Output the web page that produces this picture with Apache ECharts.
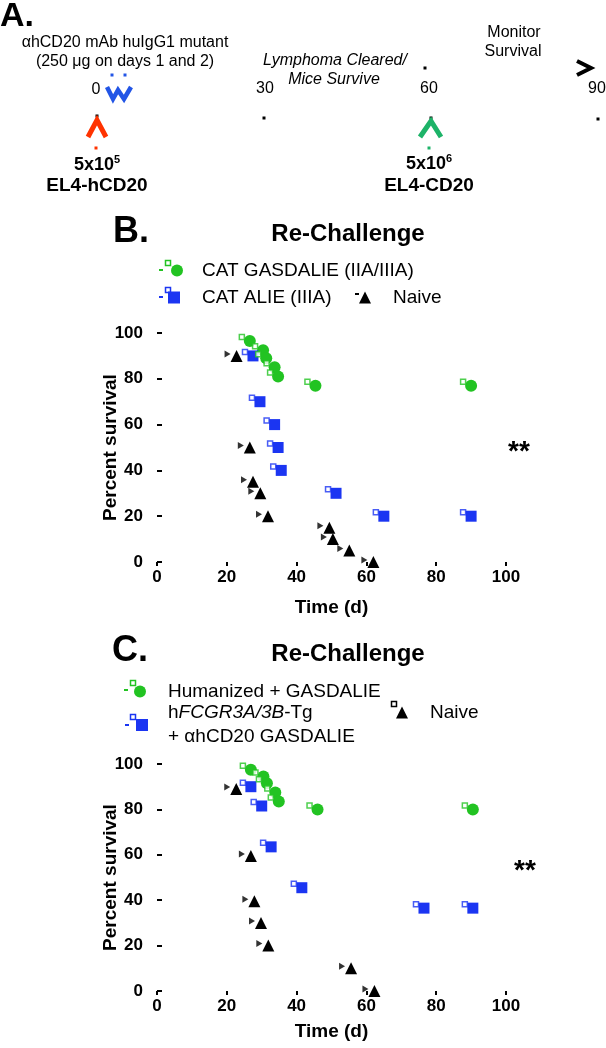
<!DOCTYPE html>
<html>
<head>
<meta charset="utf-8">
<script src="https://cdn.jsdelivr.net/npm/echarts@6/dist/echarts.min.js"></script>
<style>html,body{margin:0;padding:0;background:#fff}#c{width:606px;height:1048px}</style>
</head>
<body>
<div id="c"></div>
<script>
// ---------- data ----------
const xTicks = [0, 20, 40, 60, 80, 100];
const yTicks = [0, 20, 40, 60, 80, 100];

// Panel B
const bNames = ['CAT GASDALIE (IIA/IIIA)', 'CAT ALIE (IIIA)', 'Naive'];
const bGreenDays = [26.6, 30.4, 31.3, 33.7, 34.7, 45.4, 90];
const bGreenSurv = [96.5, 92.5, 89, 85, 81, 77, 77];
const bBlueDays = [27.5, 29.5, 33.7, 34.7, 35.6, 51.3, 65, 90];
const bBlueSurv = [90, 70, 60, 50, 40, 30, 20, 20];
const bNaiveDays = [22.8, 26.6, 27.5, 29.6, 31.8, 49.4, 50.4, 55.1, 62];
const bNaiveSurv = [90, 50, 35, 30, 20, 15, 10, 5, 0];

// Panel C
const cNames = ['Humanized + GASDALIE', 'hFCGR3A/3B-Tg + αhCD20 GASDALIE', 'Naive'];
const cGreenDays = [26.9, 30.5, 31.5, 33.9, 34.9, 46, 90.5];
const cGreenSurv = [97.5, 94.5, 91.5, 87.5, 83.5, 80, 80];
const cBlueDays = [26.9, 30, 32.7, 41.5, 76.5, 90.5];
const cBlueSurv = [90, 81.5, 63.5, 45.5, 36.5, 36.5];
const cNaiveDays = [22.7, 26.9, 27.9, 29.8, 31.9, 55.6, 62.3];
const cNaiveSurv = [89, 59.5, 39.5, 30, 20, 10, 0];

// Panel A timeline labels
const timelineDays = ['0', '30', '60', '90'];

// ---------- styles ----------
const FONT = 'Liberation Sans, Arial, Helvetica, sans-serif';
const GREEN = '#22c322';
const BLUE = '#1b35f2';
const BLACK = '#000000';

function pairs(xs, ys) { return xs.map((x, i) => [x, ys[i]]); }

const chart = echarts.init(document.getElementById('c'), null, {renderer: 'canvas'});

function xAxisDef(gi, gap) {
  return {
    gridIndex: gi, type: 'value', min: 0, max: 100, interval: 20,
    name: 'Time (d)', nameLocation: 'middle', nameGap: gap, nameMoveOverlap: false,
    nameTextStyle: {fontFamily: FONT, fontSize: 19, fontWeight: 'bold', color: BLACK},
    axisLine: {show: false},
    axisTick: {show: true, length: 4, lineStyle: {color: BLACK, width: 2}},
    axisLabel: {fontFamily: FONT, fontSize: 17, fontWeight: 'bold', color: BLACK, margin: 7,
      formatter: v => xTicks.includes(v) ? String(v) : ''},
    splitLine: {show: false}
  };
}
function yAxisDef(gi) {
  return {
    gridIndex: gi, type: 'value', min: 0, max: 100, interval: 20,
    name: 'Percent survival', nameLocation: 'middle', nameGap: 37, nameRotate: 90, nameMoveOverlap: false,
    nameTextStyle: {fontFamily: FONT, fontSize: 19, fontWeight: 'bold', color: BLACK},
    axisLine: {show: false},
    axisTick: {show: true, inside: true, length: 5, lineStyle: {color: BLACK, width: 2}},
    axisLabel: {fontFamily: FONT, fontSize: 17, fontWeight: 'bold', color: BLACK, margin: 14,
      formatter: v => yTicks.includes(v) ? String(v) : ''},
    splitLine: {show: false}
  };
}

function mainSeries(name, gi, data, symbol, color, size) {
  return {name, type: 'scatter', xAxisIndex: gi, yAxisIndex: gi, data, symbol, symbolSize: size,
    itemStyle: {color, opacity: 1}, z: 3, emphasis: {disabled: true}};
}
function artSeries(name, gi, data, color) {
  return {name, type: 'scatter', xAxisIndex: gi, yAxisIndex: gi, data, symbol: 'rect', symbolSize: 5,
    symbolOffset: [-8, -4], itemStyle: {color: '#fff', borderColor: color, borderWidth: 1.5},
    z: 4, silent: true, emphasis: {disabled: true}};
}
function wedgeSeries(name, gi, data) {
  return {name, type: 'scatter', xAxisIndex: gi, yAxisIndex: gi, data, symbol: 'triangle', symbolSize: [7, 6],
    symbolRotate: -90, symbolOffset: [-9, -2], itemStyle: {color: BLACK}, z: 2, silent: true,
    emphasis: {disabled: true}};
}

function legendDef(name, icon, left, top, padLeft, extra) {
  return Object.assign({
    data: [{name, icon}], left, top, padding: 0, itemWidth: 12, itemHeight: 12, selectedMode: false,
    textStyle: {fontFamily: FONT, fontSize: 19, color: BLACK, padding: [0, 0, 0, padLeft]}
  }, extra || {});
}

// ---------- graphic: panel A + labels ----------
const txt = (text, x, y, size, opts) => ({
  type: 'text', x, y, silent: true,
  style: Object.assign({text, fontFamily: FONT, fontSize: size, fill: BLACK, align: 'center', verticalAlign: 'middle'}, opts || {})
});
const dot = (x, y, color) => ({type: 'rect', silent: true, shape: {x: x - 1.5, y: y - 1.5, width: 3, height: 3}, style: {fill: color || BLACK}});
const poly = (pts, color, w) => ({type: 'polyline', silent: true, shape: {points: pts}, style: {stroke: color, lineWidth: w, fill: null, lineJoin: 'miter'}});
const dash = (x, y, color) => ({type: 'rect', silent: true, shape: {x: x - 2, y: y - 1, width: 4, height: 2}, style: {fill: color}});
const osq = (x, y, color) => ({type: 'rect', silent: true, shape: {x: x - 2.5, y: y - 2.5, width: 5, height: 5}, style: {fill: '#fff', stroke: color, lineWidth: 1.5}});

const supRich = {
  b: {fontFamily: FONT, fontSize: 18, fontWeight: 'bold', fill: BLACK},
  s: {fontFamily: FONT, fontSize: 11, fontWeight: 'bold', fill: BLACK, verticalAlign: 'top', padding: [0, 0, 10, 0]}
};

const graphics = [
  // Panel A
  txt('A.', 0, 17, 34, {fontWeight: 'bold', align: 'left'}),
  txt('αhCD20 mAb huIgG1 mutant', 125, 43, 16),
  txt('(250 μg on days 1 and 2)', 125, 62, 16),
  txt(timelineDays[0], 96, 90, 16),
  txt(timelineDays[1], 265, 89, 16),
  txt(timelineDays[2], 429, 89, 16),
  txt(timelineDays[3], 597, 89, 16),
  txt('Lymphoma Cleared/', 335, 61, 16, {fontStyle: 'italic'}),
  txt('Mice Survive', 334, 80, 16, {fontStyle: 'italic'}),
  txt('Monitor', 514, 33, 16),
  txt('Survival', 513, 52, 16),
  dot(112, 75, '#2255e6'), dot(125, 75, '#2255e6'),
  poly([[107, 87], [113, 99], [118, 90], [124, 99], [131, 87]], '#2255e6', 4.5),
  dot(97, 116),
  poly([[88, 137], [97, 120], [106, 137]], '#ff3300', 5),
  dot(96, 148, '#ff3300'),
  dot(264, 118),
  dot(425, 68),
  dot(431, 118),
  poly([[420, 137], [431, 121], [441, 137]], '#1db368', 5),
  dot(429, 148, '#1db368'),
  poly([[577, 61], [591, 68], [577, 75]], BLACK, 4),
  dot(598, 119),
  {type: 'text', x: 97, y: 165, silent: true, style: {text: '{b|5x10}{s|5}', rich: supRich, align: 'center', verticalAlign: 'middle'}},
  txt('EL4-hCD20', 97, 186, 19, {fontWeight: 'bold'}),
  {type: 'text', x: 429, y: 164, silent: true, style: {text: '{b|5x10}{s|6}', rich: supRich, align: 'center', verticalAlign: 'middle'}},
  txt('EL4-CD20', 429, 186, 19, {fontWeight: 'bold'}),

  // Panel B header
  txt('B.', 113, 232, 36, {fontWeight: 'bold', align: 'left'}),
  txt('Re-Challenge', 348, 234, 24, {fontWeight: 'bold'}),
  dash(161, 270, GREEN), osq(168, 263, GREEN),
  dash(161, 297, BLUE), osq(168, 290, BLUE),
  dash(357, 294, BLACK),
  txt('**', 519, 452, 28, {fontWeight: 'bold'}),

  // Panel C header
  txt('C.', 112, 651, 36, {fontWeight: 'bold', align: 'left'}),
  txt('Re-Challenge', 348, 654, 24, {fontWeight: 'bold'}),
  dash(126, 690, GREEN), osq(133, 683, GREEN),
  dash(127, 725, BLUE), osq(133, 717, BLUE),
  osq(394, 704, BLACK),
  txt('**', 525, 871, 28, {fontWeight: 'bold'})
];

const option = {
  animation: false,
  backgroundColor: '#fff',
  textStyle: {fontFamily: FONT},
  grid: [
    {left: 157, top: 333, width: 349, height: 229, containLabel: false},
    {left: 157, top: 764, width: 349, height: 227, containLabel: false}
  ],
  xAxis: [xAxisDef(0, 36), xAxisDef(1, 31)],
  yAxis: [yAxisDef(0), yAxisDef(1)],
  legend: [
    legendDef(bNames[0], 'circle', 171, 261, 14),
    legendDef(bNames[1], 'rect', 168, 288, 17),
    legendDef(bNames[2], 'triangle', 359, 288, 17),
    legendDef(cNames[0], 'circle', 134, 682, 17),
    legendDef(cNames[1], 'rect', 136, 701, 15, {
      formatter: () => 'h{i|FCGR3A/3B}-Tg\n+ αhCD20 GASDALIE',
      textStyle: {fontFamily: FONT, fontSize: 19, color: BLACK, lineHeight: 24, padding: [0, 0, 0, 15],
        rich: {i: {fontFamily: FONT, fontSize: 19, fontStyle: 'italic', color: BLACK, lineHeight: 24}}}
    }),
    legendDef(cNames[2], 'triangle', 396, 703, 17)
  ],
  series: [
    mainSeries(bNames[0], 0, pairs(bGreenDays, bGreenSurv), 'circle', GREEN, 12),
    mainSeries(bNames[1], 0, pairs(bBlueDays, bBlueSurv), 'rect', BLUE, 11),
    mainSeries(bNames[2], 0, pairs(bNaiveDays, bNaiveSurv), 'triangle', BLACK, 12),
    artSeries('_bg', 0, pairs(bGreenDays, bGreenSurv), GREEN),
    artSeries('_bb', 0, pairs(bBlueDays, bBlueSurv), BLUE),
    wedgeSeries('_bn', 0, pairs(bNaiveDays, bNaiveSurv)),

    mainSeries(cNames[0], 1, pairs(cGreenDays, cGreenSurv), 'circle', GREEN, 12),
    mainSeries(cNames[1], 1, pairs(cBlueDays, cBlueSurv), 'rect', BLUE, 11),
    mainSeries(cNames[2], 1, pairs(cNaiveDays, cNaiveSurv), 'triangle', BLACK, 12),
    artSeries('_cg', 1, pairs(cGreenDays, cGreenSurv), GREEN),
    artSeries('_cb', 1, pairs(cBlueDays, cBlueSurv), BLUE),
    wedgeSeries('_cn', 1, pairs(cNaiveDays, cNaiveSurv))
  ],
  graphic: graphics
};
chart.setOption(option);
</script>
</body>
</html>
